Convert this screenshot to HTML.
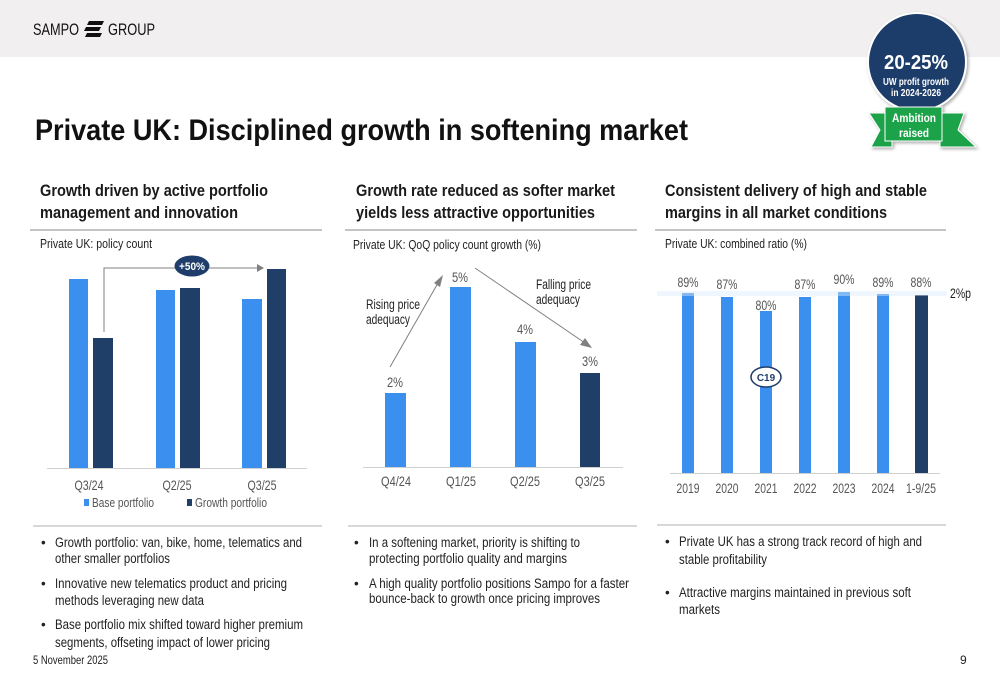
<!DOCTYPE html>
<html><head><meta charset="utf-8"><style>
html,body{margin:0;padding:0;background:#fff;}
svg{display:block;}
text{font-family:"Liberation Sans",sans-serif;}
</style></head><body>
<svg width="1000" height="685" viewBox="0 0 1000 685" xmlns="http://www.w3.org/2000/svg">
<defs>
<filter id="sh" x="-20%" y="-20%" width="140%" height="140%"><feDropShadow dx="1.5" dy="1.5" stdDeviation="1.5" flood-color="#000" flood-opacity="0.35"/></filter>
</defs>
<!-- header band -->
<rect x="0" y="0" width="1000" height="57" fill="#f1eff0"/>
<text x="33" y="35" font-size="17" fill="#111" textLength="46" lengthAdjust="spacingAndGlyphs">SAMPO</text>
<g fill="#111">
<polygon points="89,21 104,21 102,25 87,25"/>
<polygon points="86,27 101,27 99,31 84,31"/>
<polygon points="87,33 102,33 100,37 85,37"/>
</g>
<text x="108" y="35" font-size="17" fill="#111" textLength="47" lengthAdjust="spacingAndGlyphs">GROUP</text>

<!-- Title -->
<text x="35" y="140" font-size="30" font-weight="bold" fill="#111" textLength="653" lengthAdjust="spacingAndGlyphs">Private UK: Disciplined growth in softening market</text>

<!-- Badge -->
<g filter="url(#sh)">
<circle cx="917" cy="62" r="49" fill="#1f3d6b" stroke="#fff" stroke-width="2"/>
</g>
<text x="916" y="69" font-size="20" font-weight="bold" fill="#fff" text-anchor="middle" textLength="64" lengthAdjust="spacingAndGlyphs">20-25%</text>
<text x="916" y="85" font-size="10" font-weight="bold" fill="#fff" text-anchor="middle" textLength="66" lengthAdjust="spacingAndGlyphs">UW profit growth</text>
<text x="916" y="96" font-size="10" font-weight="bold" fill="#fff" text-anchor="middle" textLength="50" lengthAdjust="spacingAndGlyphs">in 2024-2026</text>
<g filter="url(#sh)">
<polygon points="869,113 892,113 892,147 871,147 880,130" fill="#1aa34a" stroke="#fff" stroke-width="1"/>
<polygon points="940,113 964,113 958,130 976,147 940,147" fill="#1aa34a" stroke="#fff" stroke-width="1"/>
<rect x="885" y="107" width="57" height="34" fill="#1aa34a" stroke="#fff" stroke-width="1"/>
</g>
<text x="914" y="122" font-size="12" font-weight="bold" fill="#fff" text-anchor="middle" textLength="44" lengthAdjust="spacingAndGlyphs">Ambition</text>
<text x="914" y="137" font-size="12" font-weight="bold" fill="#fff" text-anchor="middle" textLength="30" lengthAdjust="spacingAndGlyphs">raised</text>

<!-- Headings -->
<g font-size="17" font-weight="bold" fill="#1a1a1a">
<text x="40" y="196" textLength="228" lengthAdjust="spacingAndGlyphs">Growth driven by active portfolio</text>
<text x="40" y="218" textLength="198" lengthAdjust="spacingAndGlyphs">management and innovation</text>
<text x="356" y="196" textLength="259" lengthAdjust="spacingAndGlyphs">Growth rate reduced as softer market</text>
<text x="356" y="218" textLength="239" lengthAdjust="spacingAndGlyphs">yields less attractive opportunities</text>
<text x="665" y="196" textLength="262" lengthAdjust="spacingAndGlyphs">Consistent delivery of high and stable</text>
<text x="665" y="218" textLength="222" lengthAdjust="spacingAndGlyphs">margins in all market conditions</text>
</g>
<g stroke="#b0b0b0" stroke-width="1.5">
<line x1="30" y1="230" x2="322" y2="230"/>
<line x1="345" y1="230" x2="637" y2="230"/>
<line x1="655" y1="230" x2="946" y2="230"/>
</g>

<!-- subtitles -->
<g font-size="12.5" fill="#222">
<text x="40" y="248" textLength="112" lengthAdjust="spacingAndGlyphs">Private UK: policy count</text>
<text x="353" y="249" textLength="188" lengthAdjust="spacingAndGlyphs">Private UK: QoQ policy count growth (%)</text>
<text x="665" y="248" textLength="142" lengthAdjust="spacingAndGlyphs">Private UK: combined ratio (%)</text>
</g>

<!-- Chart 1 -->
<g>
<rect x="69" y="279" width="19" height="189" fill="#3a8fef"/>
<rect x="93" y="338" width="20" height="130" fill="#1f3f68"/>
<rect x="156" y="290" width="19" height="178" fill="#3a8fef"/>
<rect x="180" y="288" width="20" height="180" fill="#1f3f68"/>
<rect x="242" y="299" width="20" height="169" fill="#3a8fef"/>
<rect x="267" y="269" width="19" height="199" fill="#1f3f68"/>
<line x1="47" y1="468.5" x2="307" y2="468.5" stroke="#d0d0d0" stroke-width="1"/>
<polyline points="104,332 104,268 257,268" fill="none" stroke="#808080" stroke-width="1"/>
<polygon points="257,264 264,268 257,272" fill="#808080"/>
<ellipse cx="192" cy="266" rx="17.5" ry="10.5" fill="#1f3d6b"/>
<text x="192" y="270" font-size="11" font-weight="bold" fill="#fff" text-anchor="middle" textLength="26" lengthAdjust="spacingAndGlyphs">+50%</text>
<g font-size="14" fill="#555" text-anchor="middle">
<text x="89" y="490" textLength="29" lengthAdjust="spacingAndGlyphs">Q3/24</text>
<text x="177" y="490" textLength="29" lengthAdjust="spacingAndGlyphs">Q2/25</text>
<text x="262" y="490" textLength="29" lengthAdjust="spacingAndGlyphs">Q3/25</text>
</g>
<rect x="84" y="499" width="5" height="7" fill="#3a8fef"/>
<text x="92" y="507" font-size="12.5" fill="#555" textLength="62" lengthAdjust="spacingAndGlyphs">Base portfolio</text>
<rect x="187" y="499" width="5" height="7" fill="#1f3f68"/>
<text x="195" y="507" font-size="12.5" fill="#555" textLength="72" lengthAdjust="spacingAndGlyphs">Growth portfolio</text>
</g>

<!-- Chart 2 -->
<g>
<rect x="385" y="393" width="21" height="74" fill="#3a8fef"/>
<rect x="450" y="287" width="21" height="180" fill="#3a8fef"/>
<rect x="515" y="342" width="21" height="125" fill="#3a8fef"/>
<rect x="580" y="373" width="20" height="94" fill="#1f3f68"/>
<line x1="363" y1="467.5" x2="623" y2="467.5" stroke="#d0d0d0" stroke-width="1"/>
<g font-size="13.5" fill="#555" text-anchor="middle">
<text x="395" y="387" textLength="16" lengthAdjust="spacingAndGlyphs">2%</text>
<text x="460" y="282" textLength="16" lengthAdjust="spacingAndGlyphs">5%</text>
<text x="525" y="334" textLength="16" lengthAdjust="spacingAndGlyphs">4%</text>
<text x="590" y="366" textLength="16" lengthAdjust="spacingAndGlyphs">3%</text>
</g>
<line x1="390" y1="367" x2="438" y2="283" stroke="#808080" stroke-width="1"/>
<polygon points="443,275 440,287 434,283" fill="#808080"/>
<line x1="475" y1="268" x2="585" y2="343" stroke="#808080" stroke-width="1"/>
<polygon points="592,348 580,345 585,338" fill="#808080"/>
<g font-size="13.5" fill="#222">
<text x="366" y="309" textLength="54" lengthAdjust="spacingAndGlyphs">Rising price</text>
<text x="366" y="324" textLength="44" lengthAdjust="spacingAndGlyphs">adequacy</text>
<text x="536" y="289" textLength="55" lengthAdjust="spacingAndGlyphs">Falling price</text>
<text x="536" y="304" textLength="44" lengthAdjust="spacingAndGlyphs">adequacy</text>
</g>
<g font-size="14" fill="#555" text-anchor="middle">
<text x="396" y="486" textLength="30" lengthAdjust="spacingAndGlyphs">Q4/24</text>
<text x="461" y="486" textLength="30" lengthAdjust="spacingAndGlyphs">Q1/25</text>
<text x="525" y="486" textLength="30" lengthAdjust="spacingAndGlyphs">Q2/25</text>
<text x="590" y="486" textLength="30" lengthAdjust="spacingAndGlyphs">Q3/25</text>
</g>
</g>

<!-- Chart 3 -->
<g>
<rect x="682" y="293" width="12" height="180" fill="#3a8fef"/>
<rect x="721" y="297" width="12" height="176" fill="#3a8fef"/>
<rect x="760" y="311" width="12" height="162" fill="#3a8fef"/>
<rect x="799" y="297" width="12" height="176" fill="#3a8fef"/>
<rect x="838" y="292" width="12" height="181" fill="#3a8fef"/>
<rect x="877" y="294" width="12" height="179" fill="#3a8fef"/>
<rect x="915" y="295" width="13" height="178" fill="#1f3f68"/>
<rect x="657" y="291" width="290" height="5" fill="#dceafb" opacity="0.45"/>
<line x1="670" y1="473.5" x2="940" y2="473.5" stroke="#d0d0d0" stroke-width="1"/>
<g font-size="13.5" fill="#555" text-anchor="middle">
<text x="688" y="287" textLength="21" lengthAdjust="spacingAndGlyphs">89%</text>
<text x="727" y="289" textLength="21" lengthAdjust="spacingAndGlyphs">87%</text>
<text x="766" y="310" textLength="21" lengthAdjust="spacingAndGlyphs">80%</text>
<text x="805" y="289" textLength="21" lengthAdjust="spacingAndGlyphs">87%</text>
<text x="844" y="284" textLength="21" lengthAdjust="spacingAndGlyphs">90%</text>
<text x="883" y="287" textLength="21" lengthAdjust="spacingAndGlyphs">89%</text>
<text x="921" y="287" textLength="21" lengthAdjust="spacingAndGlyphs">88%</text>
</g>
<text x="950" y="298" font-size="13.5" fill="#222" textLength="21" lengthAdjust="spacingAndGlyphs">2%p</text>
<ellipse cx="766" cy="377" rx="15" ry="10" fill="#fff" stroke="#1f3d6b" stroke-width="1.5"/>
<text x="766" y="381" font-size="10" font-weight="bold" fill="#1f3d6b" text-anchor="middle">C19</text>
<g font-size="14" fill="#555" text-anchor="middle">
<text x="688" y="493" textLength="23" lengthAdjust="spacingAndGlyphs">2019</text>
<text x="727" y="493" textLength="23" lengthAdjust="spacingAndGlyphs">2020</text>
<text x="766" y="493" textLength="23" lengthAdjust="spacingAndGlyphs">2021</text>
<text x="805" y="493" textLength="23" lengthAdjust="spacingAndGlyphs">2022</text>
<text x="844" y="493" textLength="23" lengthAdjust="spacingAndGlyphs">2023</text>
<text x="883" y="493" textLength="23" lengthAdjust="spacingAndGlyphs">2024</text>
<text x="921" y="493" textLength="30" lengthAdjust="spacingAndGlyphs">1-9/25</text>
</g>
</g>

<!-- bullet separators -->
<g stroke="#b0b0b0" stroke-width="1">
<line x1="33" y1="526" x2="322" y2="526"/>
<line x1="348" y1="526" x2="637" y2="526"/>
<line x1="657" y1="525" x2="946" y2="525"/>
</g>

<!-- bullets -->
<g font-size="13.5" fill="#222">
<text x="41" y="547">•</text>
<text x="55" y="547" textLength="247" lengthAdjust="spacingAndGlyphs">Growth portfolio: van, bike, home, telematics and</text>
<text x="55" y="563" textLength="115" lengthAdjust="spacingAndGlyphs">other smaller portfolios</text>
<text x="41" y="588">•</text>
<text x="55" y="588" textLength="232" lengthAdjust="spacingAndGlyphs">Innovative new telematics product and pricing</text>
<text x="55" y="605" textLength="149" lengthAdjust="spacingAndGlyphs">methods leveraging new data</text>
<text x="41" y="629">•</text>
<text x="55" y="629" textLength="248" lengthAdjust="spacingAndGlyphs">Base portfolio mix shifted toward higher premium</text>
<text x="55" y="647" textLength="215" lengthAdjust="spacingAndGlyphs">segments, offseting impact of lower pricing</text>

<text x="354" y="547">•</text>
<text x="369" y="547" textLength="211" lengthAdjust="spacingAndGlyphs">In a softening market, priority is shifting to</text>
<text x="369" y="563" textLength="198" lengthAdjust="spacingAndGlyphs">protecting portfolio quality and margins</text>
<text x="354" y="588">•</text>
<text x="369" y="588" textLength="260" lengthAdjust="spacingAndGlyphs">A high quality portfolio positions Sampo for a faster</text>
<text x="369" y="603" textLength="231" lengthAdjust="spacingAndGlyphs">bounce-back to growth once pricing improves</text>

<text x="665" y="546">•</text>
<text x="679" y="546" textLength="243" lengthAdjust="spacingAndGlyphs">Private UK has a strong track record of high and</text>
<text x="679" y="564" textLength="88" lengthAdjust="spacingAndGlyphs">stable profitability</text>
<text x="665" y="597">•</text>
<text x="679" y="597" textLength="232" lengthAdjust="spacingAndGlyphs">Attractive margins maintained in previous soft</text>
<text x="679" y="614" textLength="41" lengthAdjust="spacingAndGlyphs">markets</text>
</g>

<!-- footer -->
<text x="33" y="664" font-size="12" fill="#222" textLength="75" lengthAdjust="spacingAndGlyphs">5 November 2025</text>
<text x="960" y="664" font-size="12" fill="#222">9</text>
</svg>
</body></html>
